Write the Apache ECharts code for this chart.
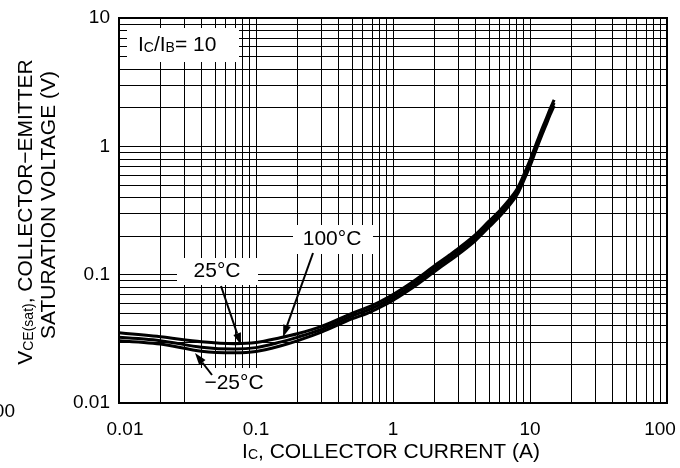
<!DOCTYPE html>
<html><head><meta charset="utf-8">
<script src="https://cdn.jsdelivr.net/npm/echarts@6/dist/echarts.min.js"></script>
<style>html,body{margin:0;padding:0;background:#fff}#c{width:680px;height:468px}</style>
</head><body><div id="c"></div>
<script>
// ---- data ----
const currentA = [0.01,0.02,0.04,0.07,0.1,0.15,0.2,0.3,0.5,0.65,0.8,1,1.2,1.5,2,2.6,3,4,5,6,7,8,9,10,11,12,13,14,15];
const vce100 = [0.0352,0.0328,0.0300,0.0290,0.0296,0.0322,0.0346,0.0395,0.0500,0.0555,0.0615,0.0700,0.0790,0.0930,0.1170,0.1430,0.1600,0.2050,0.2600,0.3150,0.3800,0.4600,0.6000,0.7800,1.0200,1.3000,1.6000,1.9500,2.3000];
const vce25  = [0.0325,0.0306,0.0272,0.0263,0.0270,0.0298,0.0325,0.0375,0.0476,0.0528,0.0585,0.0665,0.0750,0.0883,0.1110,0.1358,0.1520,0.1945,0.2470,0.2990,0.3610,0.4370,0.5700,0.7400,0.9700,1.2350,1.5200,1.8500,2.1800];
const vceM25 = [0.0306,0.0288,0.0253,0.0246,0.0252,0.0278,0.0305,0.0356,0.0452,0.0500,0.0555,0.0630,0.0712,0.0838,0.1053,0.1290,0.1440,0.1845,0.2340,0.2840,0.3420,0.4150,0.5400,0.7020,0.9200,1.1700,1.4400,1.7550,2.0700];
const xTickLabels = ['0.01','0.1','1','10','100'];
const yTickLabels = ['0.01','0.1','1','10'];
const xMinorGrid = [0.02,0.03,0.04,0.05,0.06,0.07,0.08,0.09,0.2,0.3,0.4,0.5,0.6,0.7,0.8,0.9,2,3,4,5,6,7,8,9,20,30,40,50,60,70,80,90];
const yMinorGrid = [0.02,0.03,0.04,0.05,0.06,0.07,0.08,0.09,0.2,0.3,0.4,0.5,0.6,0.7,0.8,0.9,2,3,4,5,6,7,8,9];
const curveNames = ['100°C','25°C','−25°C'];

const FONT = '"Liberation Sans", Arial, Helvetica, sans-serif';
function pairs(xs, ys) { return xs.map((x, i) => [x, ys[i]]); }

function arrow(x1, y1, x2, y2) {
  const L = 12, W = 4;
  const dx = x2 - x1, dy = y2 - y1, d = Math.hypot(dx, dy);
  const ux = dx / d, uy = dy / d;
  const bx = x2 - ux * L, by = y2 - uy * L;
  return [
    { type: 'polyline', z: 60, shape: { points: [[x1, y1], [bx, by]] }, style: { stroke: '#000', lineWidth: 2, fill: null } },
    { type: 'polygon', z: 60, shape: { points: [[x2, y2], [bx - uy * W, by + ux * W], [bx + uy * W, by - ux * W]] }, style: { fill: '#000' } }
  ];
}
function box(x, y, w, h) {
  return { type: 'rect', z: 50, shape: { x: x, y: y, width: w, height: h }, style: { fill: '#fff' } };
}
function txt(text, x, y, extra) {
  return Object.assign({
    type: 'text', z: 61, x: x, y: y,
    style: Object.assign({ text: text, fontFamily: FONT, fontSize: 21, fill: '#000', align: 'center', verticalAlign: 'middle',
      rich: { s: { fontFamily: FONT, fontSize: 14, fill: '#000', verticalAlign: 'bottom', lineHeight: 12, padding: [6, 0, 0, 0] } } }, extra || {})
  });
}

const gridLineStyle = { color: '#000', width: 1, type: 'solid' };
const curveStyle = { color: '#000', width: 3 };

const chart = echarts.init(document.getElementById('c'));
chart.setOption({
  animation: false,
  backgroundColor: '#fff',
  grid: { left: 119, right: 13, top: 18, bottom: 65, show: true, borderColor: '#000', borderWidth: 2, backgroundColor: 'transparent' },
  xAxis: {
    type: 'log', logBase: 10, min: 0.01, max: 100,
    axisLine: { show: false }, axisTick: { show: false },
    splitLine: { show: true, lineStyle: gridLineStyle },
    axisLabel: {
      margin: 17, fontFamily: FONT, fontSize: 19, color: '#000',
      formatter: function (v) {
        const i = Math.round(Math.log10(v)) + 2;
        const s = xTickLabels[i];
        if (i === 0) return '{f|' + s + '}';
        if (i === xTickLabels.length - 1) return '{l|' + s + '}';
        return s;
      },
      rich: {
        f: { fontFamily: FONT, fontSize: 19, color: '#000', padding: [0, 0, 0, 12] },
        l: { fontFamily: FONT, fontSize: 19, color: '#000', padding: [0, 14, 0, 0] }
      }
    }
  },
  yAxis: {
    type: 'log', logBase: 10, min: 0.01, max: 10,
    axisLine: { show: false }, axisTick: { show: false },
    splitLine: { show: true, lineStyle: gridLineStyle },
    axisLabel: {
      margin: 9, fontFamily: FONT, fontSize: 19, color: '#000', padding: [0, 0, 8, 0],
      formatter: function (v) { return yTickLabels[Math.round(Math.log10(v)) + 2]; }
    }
  },
  series: [
    {
      type: 'line', name: 'grid', data: [], silent: true, z: 1,
      markLine: {
        silent: true, symbol: ['none', 'none'], label: { show: false }, animation: false,
        lineStyle: gridLineStyle, emphasis: { disabled: true },
        data: xMinorGrid.map(v => ({ xAxis: v })).concat(yMinorGrid.map(v => ({ yAxis: v })))
      }
    },
    { type: 'line', name: curveNames[0], data: pairs(currentA, vce100), smooth: 0.3, showSymbol: false, lineStyle: curveStyle, z: 5 },
    { type: 'line', name: curveNames[1], data: pairs(currentA, vce25), smooth: 0.3, showSymbol: false, lineStyle: curveStyle, z: 5 },
    { type: 'line', name: curveNames[2], data: pairs(currentA, vceM25), smooth: 0.3, showSymbol: false, lineStyle: curveStyle, z: 5 }
  ],
  graphic: [
    box(127, 28, 112, 34),
    txt('I{s|C}/I{s|B}= 10', 138, 45, { align: 'left' }),
    box(293, 225, 80, 29),
    txt(curveNames[0], 332, 239),
    box(177, 258, 81, 27),
    txt(curveNames[1], 217, 271),
    box(192, 368, 88, 34),
    txt(curveNames[2], 234, 383),
    ...arrow(221, 286, 241, 345),
    ...arrow(313, 253, 283, 337),
    ...arrow(212, 375, 195, 353),
    txt('I{s|C}, COLLECTOR CURRENT (A)', 391, 452),
    Object.assign(txt('V{s|CE(sat)}, COLLECTOR−EMITTER', 26, 212), { rotation: Math.PI / 2 }),
    Object.assign(txt('SATURATION VOLTAGE (V)', 49, 205), { rotation: Math.PI / 2 }),
    txt('100', 15, 412, { align: 'right', fontSize: 19 })
  ]
});
</script></body></html>
